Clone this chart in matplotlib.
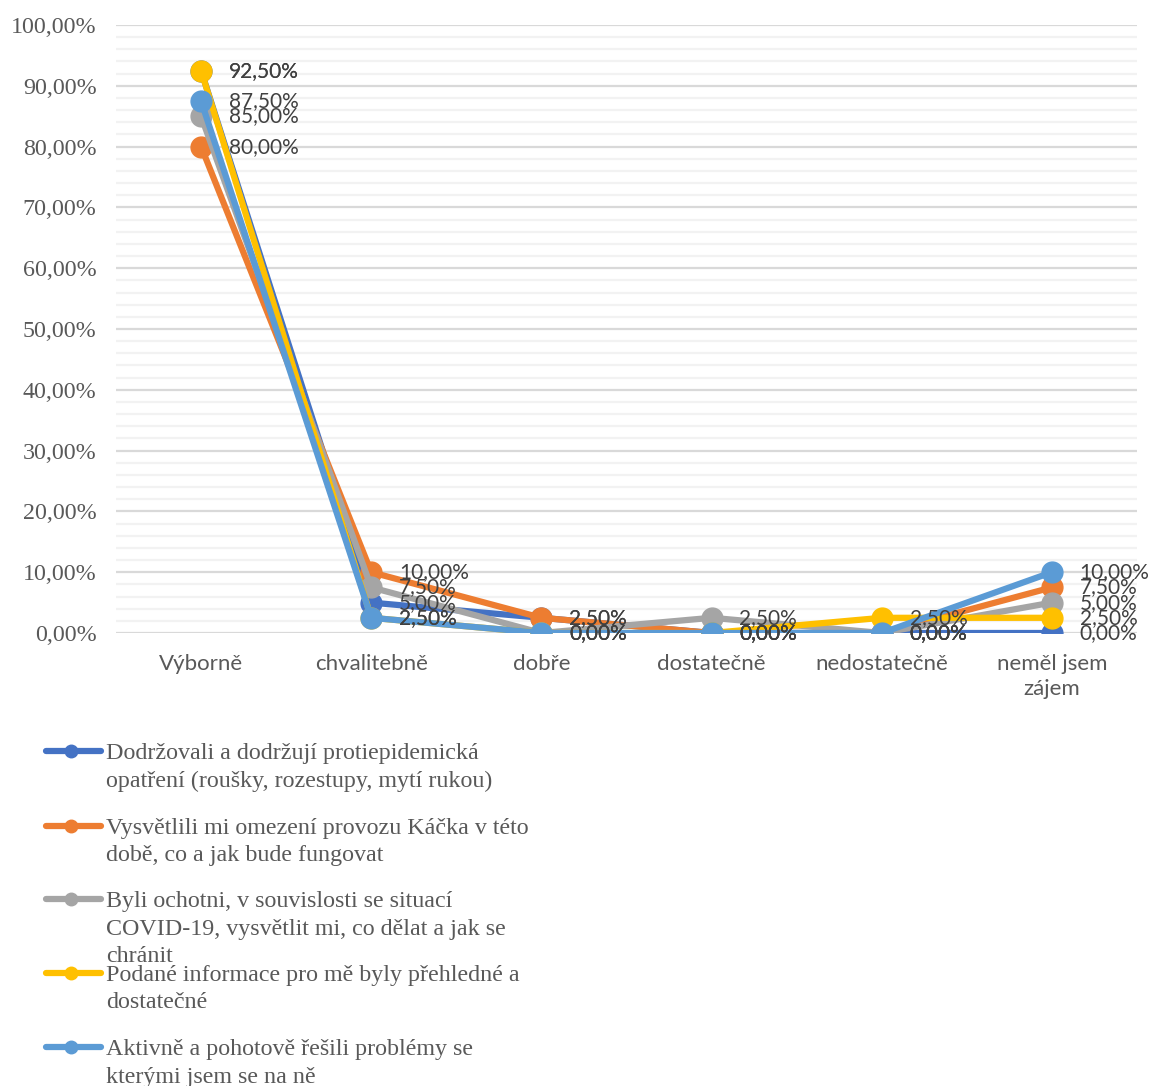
import matplotlib
matplotlib.use("Agg")
import matplotlib.pyplot as plt
from matplotlib.lines import Line2D
from matplotlib.ticker import MultipleLocator, FuncFormatter

# Rating categories (x axis)
categories = ["Výborně", "chvalitebně", "dobře", "dostatečně", "nedostatečně", "neměl jsem\nzájem"]

# Series names as shown in the legend (wrapped)
series_names = [
    "Dodržovali a dodržují protiepidemická\nopatření (roušky, rozestupy, mytí rukou)",
    "Vysvětlili mi omezení provozu Káčka v této\ndobě, co a jak bude fungovat",
    "Byli ochotni, v souvislosti se situací\nCOVID-19, vysvětlit mi, co dělat a jak se\nchránit",
    "Podané informace pro mě byly přehledné a\ndostatečné",
    "Aktivně a pohotově řešili problémy se\nkterými jsem se na ně",
]

# Share of answers in percent
dodrzovali = [92.5, 5.0, 2.5, 0.0, 0.0, 0.0]
vysvetlili = [80.0, 10.0, 2.5, 0.0, 0.0, 7.5]
ochotni = [85.0, 7.5, 0.0, 2.5, 0.0, 5.0]
podane = [92.5, 2.5, 0.0, 0.0, 2.5, 2.5]
aktivne = [87.5, 2.5, 0.0, 0.0, 0.0, 10.0]

series_values = [dodrzovali, vysvetlili, ochotni, podane, aktivne]
colors = ["#4472C4", "#ED7D31", "#A5A5A5", "#FFC000", "#5B9BD5"]

W, H = 1152, 1086
fig = plt.figure(figsize=(W / 100, H / 100), dpi=100)
ax = fig.add_axes([116 / W, 1 - 633 / H, (1137 - 116) / W, (633 - 25) / H])

x = list(range(len(categories)))
for vals, col in zip(series_values, colors):
    ax.plot(x, vals, color=col, lw=4.5, marker="o", markersize=15,
            solid_capstyle="round", zorder=3)
    for xi, v in zip(x, vals):
        ax.annotate(f"{v:.2f}".replace(".", ",") + "%", (xi, v),
                    xytext=(20, 0), textcoords="offset points",
                    ha="left", va="center", fontsize=15, family="Lato",
                    color="#404040", zorder=5)

ax.set_xlim(-0.5, len(categories) - 0.5)
ax.set_ylim(0, 100)
ax.yaxis.set_major_locator(MultipleLocator(10))
ax.yaxis.set_minor_locator(MultipleLocator(2))
ax.yaxis.set_major_formatter(FuncFormatter(lambda v, p: f"{v:.2f}".replace(".", ",") + "%"))
ax.grid(axis="y", which="major", color="#d9d9d9", lw=1.6, zorder=0)
ax.grid(axis="y", which="minor", color="#f2f2f2", lw=1.6, zorder=0)
ax.set_axisbelow(True)
for s in ax.spines.values():
    s.set_visible(False)
ax.tick_params(axis="both", which="both", length=0)
ax.tick_params(axis="y", pad=14, labelcolor="#595959")
ax.tick_params(axis="x", pad=15, labelcolor="#595959")
ax.set_xticks(x)
ax.set_xticklabels(categories, fontsize=16, family="Lato", linespacing=1.3, va="top")
for lab in ax.get_yticklabels():
    lab.set_family("Liberation Serif")
    lab.set_fontsize(17.3)

# Legend drawn below the plot area
handle_y = [751, 826, 899, 973, 1047]
line_h = 27.5
for name, col, hy in zip(series_names, colors, handle_y):
    fy = 1 - hy / H
    fig.add_artist(Line2D([46 / W, 101 / W], [fy, fy], color=col, lw=4.5,
                          solid_capstyle="round", transform=fig.transFigure))
    fig.add_artist(Line2D([71 / W], [fy], color=col, marker="o", markersize=9,
                          transform=fig.transFigure))
    for i, line in enumerate(name.split("\n")):
        by = hy + 8 + i * line_h
        fig.text(106 / W, 1 - by / H, line, ha="left", va="baseline",
                 fontsize=17.3, family="Liberation Serif", color="#595959")

fig.savefig("out.png", dpi=100, facecolor="white")
